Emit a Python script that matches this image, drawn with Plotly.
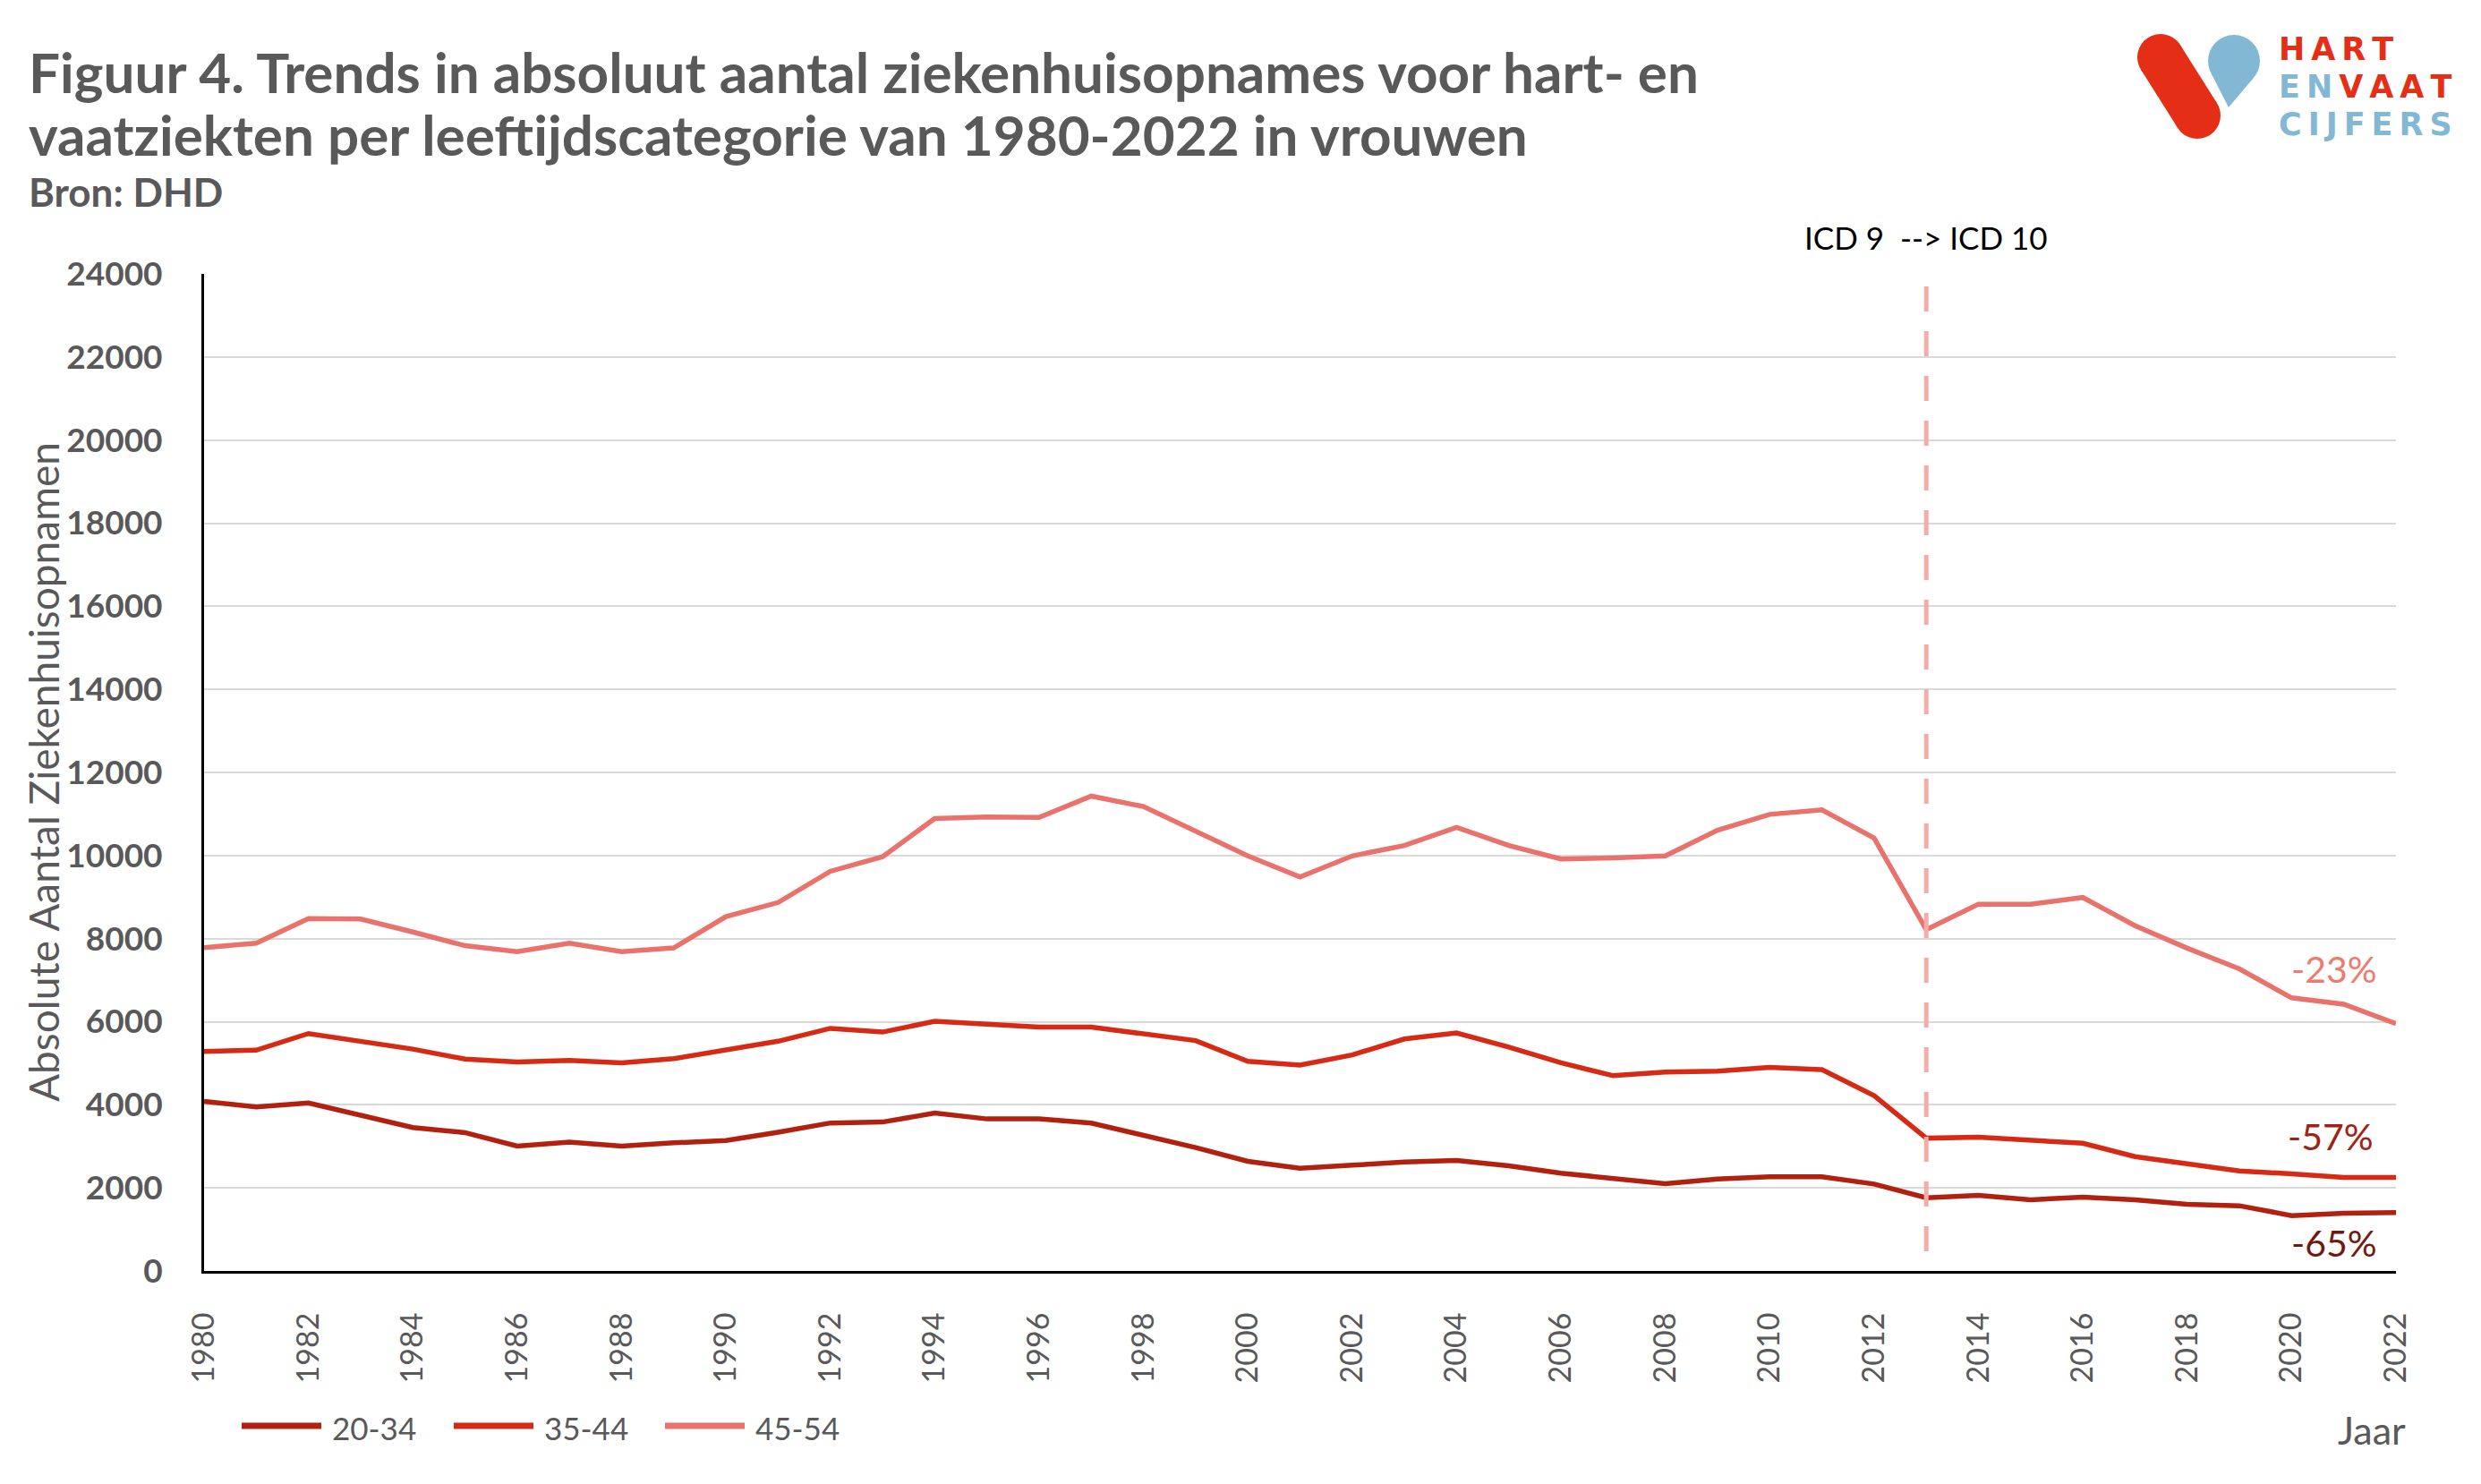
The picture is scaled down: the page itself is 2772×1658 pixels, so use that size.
import plotly.graph_objects as go

years = list(range(1980, 2023))
v20_34 = [4085, 3946, 4046, 3754, 3454, 3330, 3008, 3100, 3008, 3085,
          3138, 3338, 3562, 3585, 3800, 3660, 3660, 3560, 3277, 2970,
          2640, 2470, 2546, 2623, 2660, 2530, 2354, 2215, 2100, 2215,
          2265, 2265, 2093, 1763, 1821, 1713, 1778, 1713, 1606, 1570,
          1333, 1391, 1405]
v35_44 = [5285, 5315, 5715, 5520, 5340, 5100, 5030, 5070, 5010, 5110,
          5315, 5530, 5840, 5750, 6010, 5930, 5870, 5870, 5700, 5545,
          5045, 4955, 5200, 5585, 5730, 5390, 5010, 4700, 4790, 4810,
          4900, 4846, 4222, 3197, 3219, 3147, 3075, 2753, 2573, 2409,
          2337, 2251, 2251]
v45_54 = [7780, 7892, 8485, 8470, 8160, 7830, 7685, 7892, 7685, 7777,
          8530, 8870, 9620, 9970, 10890, 10930, 10915, 11430, 11180, 10585,
          9990, 9485, 9990, 10240, 10675, 10240, 9915, 9945, 9990, 10610,
          10990, 11100, 10420, 8215, 8830, 8830, 8990, 8310, 7770, 7270,
          6575, 6420, 5955]
series_names = ["20-34", "35-44", "45-54"]
series_colors = ["#B22010", "#D62A14", "#E9736C"]
change_labels = ["-65%", "-57%", "-23%"]
change_colors = ["#701A0E", "#A32113", "#EE7B6F"]
x_ticks = list(range(1980, 2023, 2))
y_ticks = list(range(0, 24001, 2000))
icd_year = 2013

W, H = 2772, 1658
OFF = 8  # page body margin
L, T = 220, 298
PW, PH = 2449, 1114
R, B = W - L - PW, H - T - PH


def px(X):
    return (X - OFF - L) / PW


def py(Y):
    return (T + PH + OFF - Y) / PH


GRAY = "#595959"
fig = go.Figure()
for name, vals, col in zip(series_names, [v20_34, v35_44, v45_54], series_colors):
    fig.add_trace(go.Scatter(x=years, y=vals, mode="lines", name=name,
                             line=dict(color=col, width=5.5), showlegend=False))

# ICD switch line
fig.add_shape(type="line", x0=icd_year, x1=icd_year, y0=23700, y1=-100,
              xref="x", yref="y", line=dict(color="#F4ACA9", width=5, dash="28px,22px"))

annotations = []
# title
annotations.append(dict(x=px(30), y=py(80), xref="paper", yref="paper", xanchor="left", yanchor="middle",
                        text="<b>Figuur 4. Trends in absoluut aantal ziekenhuisopnames voor hart- en</b>",
                        showarrow=False, font=dict(family="Lato", size=62, color=GRAY)))
annotations.append(dict(x=px(30), y=py(150), xref="paper", yref="paper", xanchor="left", yanchor="middle",
                        text="<b>vaatziekten per leeftijdscategorie van 1980-2022 in vrouwen</b>",
                        showarrow=False, font=dict(family="Lato", size=62, color=GRAY)))
annotations.append(dict(x=px(30), y=py(214), xref="paper", yref="paper", xanchor="left", yanchor="middle",
                        text="<b>Bron: DHD</b>", showarrow=False,
                        font=dict(family="Lato", size=44, color=GRAY)))
# ICD text
annotations.append(dict(x=icd_year, y=py(265), xref="x", yref="paper", xanchor="center", yanchor="middle",
                        text="ICD 9\u00a0 --&gt; ICD 10", showarrow=False,
                        font=dict(family="Lato", size=35, color="#000000")))
# change labels
for lab, col, (X, Y) in zip(change_labels, change_colors, [(2608, 1388), (2604, 1269), (2608, 1082)]):
    annotations.append(dict(x=px(X), y=py(Y), xref="paper", yref="paper", xanchor="center", yanchor="middle",
                            text=lab, showarrow=False, font=dict(family="Lato", size=41, color=col)))
# y title
annotations.append(dict(x=px(48), y=py(863), xref="paper", yref="paper", xanchor="center", yanchor="middle",
                        text="Absolute Aantal Ziekenhuisopnamen", textangle=-90, showarrow=False,
                        font=dict(family="Lato", size=46, color=GRAY)))
# Jaar
annotations.append(dict(x=px(2690), y=py(1597), xref="paper", yref="paper", xanchor="right", yanchor="middle",
                        text="Jaar", showarrow=False, font=dict(family="Lato", size=43, color=GRAY)))

# custom legend
shapes = []
leg_x = [267, 504, 740]
for name, col, X in zip(series_names, series_colors, leg_x):
    shapes.append(dict(type="line", xref="paper", yref="paper", x0=px(X + 3), x1=px(X + 92),
                       y0=py(1593), y1=py(1593), line=dict(color=col, width=7)))
    annotations.append(dict(x=px(X + 102), y=py(1595), xref="paper", yref="paper", xanchor="left",
                            yanchor="middle", text=name, showarrow=False,
                            font=dict(family="Lato", size=35, color=GRAY)))

# logo
RED, BLUE = "#E42F16", "#82B8D4"
A, Bp, r = (2414, 64), (2455, 129), 26
shapes.append(dict(type="line", xref="paper", yref="paper", x0=px(A[0]), y0=py(A[1]),
                   x1=px(Bp[0]), y1=py(Bp[1]), line=dict(color=RED, width=2 * r)))
for cx, cy in (A, Bp):
    shapes.append(dict(type="circle", xref="paper", yref="paper", x0=px(cx - r), x1=px(cx + r),
                       y0=py(cy + r), y1=py(cy - r), fillcolor=RED, line=dict(width=0)))
C, rb = (2496, 68), 29
shapes.append(dict(type="circle", xref="paper", yref="paper", x0=px(C[0] - rb), x1=px(C[0] + rb),
                   y0=py(C[1] + rb), y1=py(C[1] - rb), fillcolor=BLUE, line=dict(width=0)))
tri = [(2490, 120), (2470.3, 81.5), (2517.8, 87.1)]
path = "M {} {} L {} {} L {} {} Z".format(*[v for p in tri for v in (px(p[0]), py(p[1]))])
shapes.append(dict(type="path", xref="paper", yref="paper", path=path, fillcolor=BLUE, line=dict(width=0)))


def spaced(s):
    return "\u2009".join(s)


logo_lines = [(55, '<span style="color:%s">%s</span>' % (RED, spaced("HART"))),
              (97, '<span style="color:%s">%s</span>\u2009<span style="color:%s">%s</span>'
               % (BLUE, spaced("EN"), RED, spaced("VAAT"))),
              (139, '<span style="color:%s">%s</span>' % (BLUE, spaced("CIJFERS")))]
for Y, txt in logo_lines:
    annotations.append(dict(x=px(2544), y=py(Y), xref="paper", yref="paper", xanchor="left", yanchor="middle",
                            text="<b>%s</b>" % txt, showarrow=False,
                            font=dict(family="DejaVu Sans", size=35, color=RED)))

fig.update_layout(
    width=W, height=H, autosize=False,
    margin=dict(l=L, r=R, t=T, b=B, pad=0),
    paper_bgcolor="white", plot_bgcolor="white",
    annotations=annotations, shapes=fig.layout.shapes + tuple(shapes),
    showlegend=False,
)
fig.update_xaxes(range=[1980, 2022], tickmode="array", tickvals=x_ticks,
                 ticktext=[str(v) for v in x_ticks], tickangle=-90,
                 tickfont=dict(family="Lato", size=34, color=GRAY),
                 showgrid=False, zeroline=False, showline=True, linecolor="#000000", linewidth=3,
                 ticks="", ticklabelstandoff=30)
fig.update_yaxes(range=[0, 24000], tickmode="array", tickvals=y_ticks,
                 ticktext=[str(v) for v in y_ticks],
                 tickfont=dict(family="Lato", size=37, color=GRAY, weight="bold"),
                 showgrid=True, gridcolor="#D9D9D9", gridwidth=2, zeroline=False,
                 showline=True, linecolor="#000000", linewidth=3, ticks="", ticklabelstandoff=36)

fig.write_html("out.html")
